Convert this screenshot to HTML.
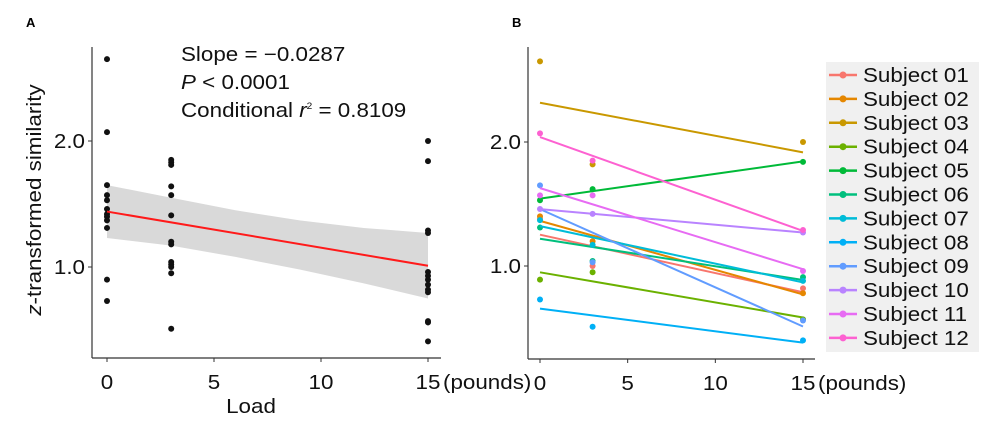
<!DOCTYPE html>
<html><head><meta charset="utf-8"><style>
body{margin:0;background:#fff;}
svg{display:block;font-family:"Liberation Sans",sans-serif;}
</style></head><body>
<svg id="chart" width="987" height="423" viewBox="0 0 987 423" xmlns="http://www.w3.org/2000/svg">
<text x="26" y="27" font-size="13" font-weight="bold">A</text>
<text x="512" y="27" font-size="13" font-weight="bold">B</text>
<g id="pa"></g>
<g id="pb"></g>
<g id="legend"></g>
</svg>
<script>
const xTicks=[0,5,10,15];
const yTicks=[1.0,2.0];
const loadsA0=[2.65,2.07,1.65,1.57,1.53,1.46,1.42,1.40,1.37,1.31,0.90,0.73];
const loadsA3=[1.85,1.83,1.81,1.64,1.57,1.41,1.20,1.18,1.04,1.02,1.00,0.95,0.51];
const loadsA15=[2.0,1.84,1.29,1.27,0.96,0.93,0.90,0.86,0.82,0.80,0.57,0.56,0.41];
const fitX=[0,15];
const fitY=[1.44,1.01];
const bandX=[0,3,6,9,12,15];
const bandLo=[1.23,1.17,1.08,0.98,0.87,0.75];
const bandHi=[1.65,1.55,1.45,1.37,1.31,1.27];
const subjects=["Subject 01","Subject 02","Subject 03","Subject 04","Subject 05","Subject 06","Subject 07","Subject 08","Subject 09","Subject 10","Subject 11","Subject 12"];
const colors=["#F8766D","#E58700","#C99800","#6BB100","#00BA38","#00BF7D","#00BCD8","#00B0F6","#619CFF","#B983FF","#E76BF3","#FD61D1"];
const subLoads=[0,3,15];
const subAt0=[1.38,1.40,2.65,0.89,1.53,1.31,1.37,0.73,1.65,1.46,1.57,2.07];
const subAt3=[1.00,1.20,1.82,0.95,1.62,1.04,1.17,0.51,1.03,1.42,1.57,1.85];
const subAt15=[0.82,0.78,2.0,0.57,1.84,0.91,0.88,0.40,0.56,1.27,0.96,1.29];

const NS="http://www.w3.org/2000/svg";
const SX=1.12, FS=20;
function mk(tag,attrs,parent){const e=document.createElementNS(NS,tag);for(const k in attrs)e.setAttribute(k,attrs[k]);parent.appendChild(e);return e;}
function txt(x,y,parent,anchor,extra){
  const a={transform:'translate('+x+','+y+') scale('+SX+',1)','font-size':FS,fill:'#111','text-anchor':anchor||'start'};
  if(extra) for(const k in extra) a[k]=extra[k];
  return mk('text',a,parent);
}
const pa=document.getElementById('pa'),pb=document.getElementById('pb'),lg=document.getElementById('legend');
const xA=v=>107+v*(428-107)/15, yA=v=>267-(v-1)*126;
const xB=v=>540+v*(803-540)/15, yB=v=>266-(v-1)*124;

function axes(g,xs,ys,x0,x1,ytop,ybot){
  let l=mk('line',{x1:x0,y1:ytop,x2:x0,y2:ybot,stroke:'#333','stroke-width':1.2},g);
  
  l=mk('line',{x1:x0,y1:ybot,x2:x1,y2:ybot,stroke:'#333','stroke-width':1.2},g);
  
  xTicks.forEach(t=>{
    const tk=mk('line',{x1:xs(t),y1:ybot,x2:xs(t),y2:ybot+4,stroke:'#333'},g);
    
    const tx=txt(xs(t),ybot+31,g,'middle');
    tx.textContent=t;
    
  });
  const pd=txt(xs(15)+15,ybot+31,g);
  pd.textContent='(pounds)';
  
  yTicks.forEach(t=>{
    const tk=mk('line',{x1:x0-4,y1:ys(t),x2:x0,y2:ys(t),stroke:'#333'},g);
    
    const tx=txt(x0-7,ys(t)+7,g,'end');
    tx.textContent=t.toFixed(1);
    
  });
}
axes(pa,xA,yA,92,441,47,358);
axes(pb,xB,yB,528,815,47,359);

let pts=bandX.map((x,i)=>xA(x)+','+yA(bandHi[i])).concat(bandX.slice().reverse().map((x,i)=>xA(x)+','+yA(bandLo[bandX.length-1-i])));
let band=mk('polygon',{points:pts.join(' '),fill:'#d9d9d9'},pa);

[[0,loadsA0],[3,loadsA3],[15,loadsA15]].forEach(([x,arr])=>arr.forEach(v=>{
  const c=mk('circle',{cx:xA(x),cy:yA(v),r:3,fill:'#111'},pa);
  
}));
let fl=mk('line',{x1:xA(fitX[0]),y1:yA(fitY[0]),x2:xA(fitX[1]),y2:yA(fitY[1]),stroke:'#ff1a1a','stroke-width':2},pa);

let yl=mk('text',{transform:'translate(41,200) rotate(-90) scale('+SX+',1)','font-size':FS,'text-anchor':'middle',fill:'#111'},pa);
yl.innerHTML='<tspan font-style="italic">z</tspan>-transformed similarity';

let xl=txt(251,413,pa,'middle');
xl.textContent='Load';

const ann=['Slope = −0.0287','<tspan font-style="italic">P</tspan> &lt; 0.0001','Conditional <tspan font-style="italic">r</tspan><tspan font-size="9" dy="-8">2</tspan><tspan dy="8"> = 0.8109</tspan>'];
ann.forEach((s,i)=>{
  const t=txt(181,61+i*28,pa);
  t.innerHTML=s;
  
});

subjects.forEach((s,i)=>{
  const ys=[subAt0[i],subAt3[i],subAt15[i]];
  const n=3,mx=subLoads.reduce((a,b)=>a+b)/n,my=ys.reduce((a,b)=>a+b)/n;
  let sxy=0,sxx=0;subLoads.forEach((x,k)=>{sxy+=(x-mx)*(ys[k]-my);sxx+=(x-mx)*(x-mx);});
  const b=sxy/sxx,a=my-b*mx;
  const ln=mk('line',{x1:xB(0),y1:yB(a),x2:xB(15),y2:yB(a+b*15),stroke:colors[i],'stroke-width':2},pb);
  
  subLoads.forEach((x,k)=>{
    const c=mk('circle',{cx:xB(x),cy:yB(ys[k]),r:3,fill:colors[i]},pb);
    
  });
});
let bg=mk('rect',{x:826,y:62,width:153,height:290,fill:'#f0f0f0'},lg);

subjects.forEach((s,i)=>{
  const y=75+i*23.9;
  const g=mk('g',{},lg);
  
  mk('line',{x1:829,y1:y,x2:857,y2:y,stroke:colors[i],'stroke-width':2.5},g);
  mk('circle',{cx:843,cy:y,r:3.5,fill:colors[i]},g);
  const t=txt(863,y+7,g);
  t.textContent=s;
});
</script>
</body></html>
